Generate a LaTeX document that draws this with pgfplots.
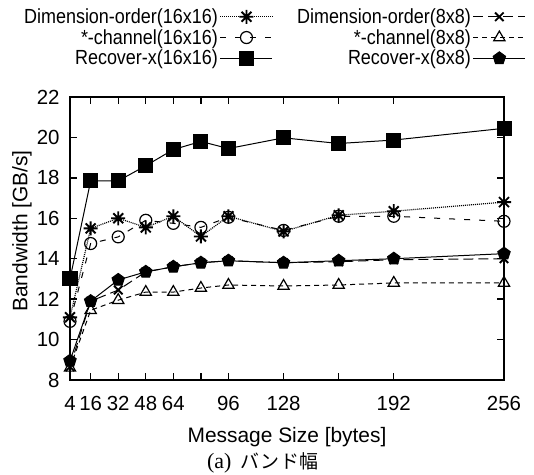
\documentclass[border=0pt]{standalone}
\usepackage{fontspec}
\setmainfont{Liberation Sans}
\newfontfamily\legendfont[FakeStretch=0.88]{Liberation Sans}
\newfontfamily\jpfont{Noto Sans CJK JP}
\newfontfamily\seriffont{Liberation Serif}
\usepackage{pgfplots}
\pgfplotsset{compat=1.18}

\pgfdeclareplotmark{gpstar}{%
 \pgfpathmoveto{\pgfqpoint{-\pgfplotmarksize}{0pt}}\pgfpathlineto{\pgfqpoint{\pgfplotmarksize}{0pt}}%
 \pgfpathmoveto{\pgfqpoint{0pt}{-\pgfplotmarksize}}\pgfpathlineto{\pgfqpoint{0pt}{\pgfplotmarksize}}%
 \pgfpathmoveto{\pgfqpoint{-0.707\pgfplotmarksize}{-0.707\pgfplotmarksize}}\pgfpathlineto{\pgfqpoint{0.707\pgfplotmarksize}{0.707\pgfplotmarksize}}%
 \pgfpathmoveto{\pgfqpoint{-0.707\pgfplotmarksize}{0.707\pgfplotmarksize}}\pgfpathlineto{\pgfqpoint{0.707\pgfplotmarksize}{-0.707\pgfplotmarksize}}%
 \pgfusepathqstroke}

\pgfplotstableread{
x   dim16  chan16  rec16  dim8   chan8  rec8
4   11.1   10.9    13.0   8.65   8.6    8.95
16  15.5   14.75   17.85  11.9   11.45  11.9
32  16.0   15.08   17.85  12.45  11.95  12.95
48  15.55  15.9    18.6   13.35  12.35  13.35
64  16.1   15.75   19.4   13.6   12.35  13.6
80  15.1   15.55   19.8   13.8   12.55  13.8
96  16.1   16.05   19.45  13.9   12.7   13.9
128 15.35  15.4    19.98  13.8   12.65  13.8
160 16.15  16.1    19.7   13.85  12.7   13.9
192 16.35  16.1    19.87  13.95  12.8   14.0
256 16.8   15.85   20.45  14.0   12.8   14.25
}\datatable

\begin{document}
\begin{tikzpicture}
\path[use as bounding box] (0,0) rectangle (534bp,475bp);
\begin{axis}[
  at={(70bp,95bp)}, anchor=south west,
  scale only axis, width=434bp, height=283bp,
  xmin=4, xmax=256, ymin=8, ymax=22,
  clip=false,
  axis line style={line width=1.5bp},
  tick style={line width=1.3bp, black},
  major tick length=7bp,
  tick align=inside,
  xtick={4,16,32,48,64,80,96,128,160,192,256},
  xticklabels={4,16,32,48,64,,96,128,,192,256},
  ytick={8,10,12,14,16,18,20,22},
  /pgf/number format/assume math mode=true,
  ticklabel style={font=\fontsize{20.5}{23}\selectfont},
  xticklabel style={yshift=-13bp},
  yticklabel style={xshift=-7bp},
  xlabel={Message Size [bytes]},
  ylabel={Bandwidth [GB/s]},
  every axis x label/.style={at={(axis description cs:0.5,-0.2014)},anchor=center,font=\fontsize{21}{23}\selectfont},
  every axis y label/.style={at={(axis description cs:-0.1106,0.5265)},rotate=90,anchor=center,font=\fontsize{21}{23}\selectfont},
  legend style={at={(0.47,1.32)}, anchor=north, draw=none, fill=none,
    font=\legendfont\fontsize{20.5}{22}\selectfont,
    /tikz/every even column/.append style={column sep=22bp},
    row sep=0.5bp,
    inner xsep=0pt, inner ysep=0pt},
  legend columns=2,
  legend plot pos=right,
  legend cell align=right,
  legend image code/.code={\draw[mark repeat=2,mark phase=2,#1] plot coordinates {(0bp,0bp)(26bp,0bp)(52bp,0bp)};},
  every axis plot/.append style={line width=1bp, black},
]
\addplot[densely dotted, line width=1.2bp, mark=gpstar, mark size=7bp, mark options={solid,line width=1.9bp}] table[x=x,y=dim16] {\datatable};
\addlegendentry{Dimension-order(16x16)}
\addplot[dash pattern=on 10bp off 5bp, mark=x, mark size=6bp, mark options={solid,line width=1.9bp}] table[x=x,y=dim8] {\datatable};
\addlegendentry{Dimension-order(8x8)}
\addplot[dash pattern=on 6bp off 9bp, mark=o, mark size=6bp, mark options={solid,line width=1.2bp,fill=white}] table[x=x,y=chan16] {\datatable};
\addlegendentry{*-channel(16x16)}
\addplot[dash pattern=on 5bp off 4bp, mark=triangle, mark size=6.5bp, mark options={solid,line width=1.2bp,fill=white}] table[x=x,y=chan8] {\datatable};
\addlegendentry{*-channel(8x8)}
\addplot[solid, mark=square*, mark size=7bp, mark options={solid}] table[x=x,y=rec16] {\datatable};
\addlegendentry{Recover-x(16x16)}
\addplot[solid, mark=pentagon*, mark size=6.5bp, mark options={solid}] table[x=x,y=rec8] {\datatable};
\addlegendentry{Recover-x(8x8)}
\node[anchor=center] at (axis description cs:0.4447,-0.2933) {\fontsize{22}{24}\selectfont\seriffont (a)\hspace{0.4em}\jpfont\fontsize{19}{24}\selectfont バ\hspace{1bp}ン\hspace{1bp}ド\hspace{1bp}幅};
\end{axis}
\end{tikzpicture}
\end{document}
